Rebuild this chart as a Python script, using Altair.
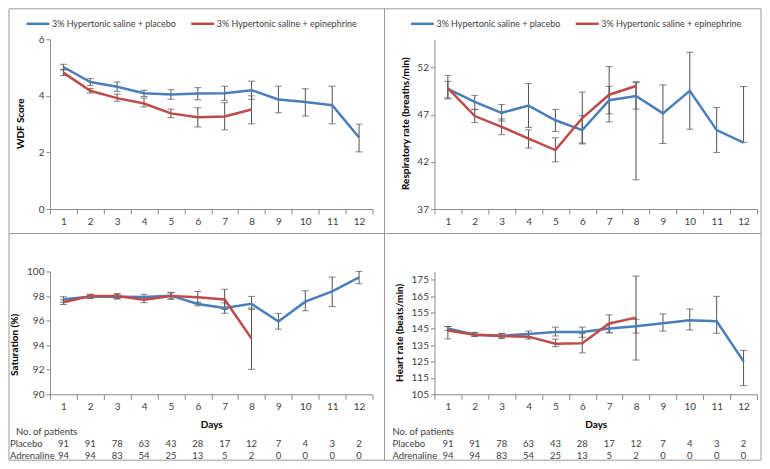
import altair as alt
import pandas as pd

days = list(range(1, 13))
groups = ["3% Hypertonic saline + placebo", "3% Hypertonic saline + epinephrine"]

# WDF score
wdf_plc = [5.02, 4.49, 4.32, 4.09, 4.05, 4.08, 4.09, 4.20, 3.87, 3.78, 3.67, 2.53]
wdf_plc_lo = [4.92, 4.37, 4.15, 3.98, 3.88, 3.86, 3.84, 3.88, 3.40, 3.29, 3.01, 2.02]
wdf_plc_hi = [5.12, 4.61, 4.49, 4.20, 4.22, 4.29, 4.34, 4.52, 4.34, 4.25, 4.34, 3.00]
wdf_epi = [4.82, 4.18, 3.92, 3.73, 3.38, 3.24, 3.27, 3.52]
wdf_epi_lo = [4.72, 4.10, 3.81, 3.61, 3.23, 2.90, 2.80, 3.01]
wdf_epi_hi = [4.92, 4.26, 4.06, 3.92, 3.53, 3.58, 3.76, 4.00]

# Respiratory rate
rr_plc = [49.74, 48.35, 47.20, 47.97, 46.41, 45.37, 48.53, 48.98, 47.14, 49.53, 45.37, 44.05]
rr_plc_lo = [48.67, 47.56, 46.34, 45.65, 45.23, 43.90, 47.10, 47.60, 43.95, 45.47, 43.00, 44.05]
rr_plc_hi = [51.17, 49.05, 48.08, 50.30, 47.55, 46.90, 50.00, 50.40, 50.16, 53.63, 47.76, 49.99]
rr_epi = [49.81, 46.86, 45.72, 44.47, 43.25, 46.65, 49.12, 50.05]
rr_epi_lo = [48.80, 46.17, 44.88, 43.46, 42.00, 44.00, 46.24, 40.10]
rr_epi_hi = [50.54, 47.56, 46.55, 45.40, 44.55, 49.40, 52.10, 50.50]

# Saturation
sat_plc = [97.73, 97.95, 97.95, 97.92, 98.03, 97.35, 97.02, 97.37, 95.92, 97.54, 98.38, 99.51]
sat_plc_lo = [97.50, 97.80, 97.75, 97.72, 97.75, 97.20, 96.60, 96.90, 95.30, 96.81, 97.14, 99.00]
sat_plc_hi = [97.95, 98.10, 98.15, 98.14, 98.30, 97.50, 97.45, 97.97, 96.59, 98.43, 99.54, 100.0]
sat_epi = [97.50, 98.00, 98.00, 97.70, 98.00, 97.89, 97.72, 94.53]
sat_epi_lo = [97.30, 97.85, 97.80, 97.45, 97.75, 97.40, 96.90, 92.03]
sat_epi_hi = [97.70, 98.15, 98.20, 97.95, 98.25, 98.37, 98.55, 97.02]

# Heart rate
hr_plc = [145.2, 141.4, 140.8, 141.8, 143.0, 143.0, 145.2, 146.6, 148.4, 150.2, 149.6, 125.1]
hr_plc_lo = [144.0, 140.4, 139.5, 139.8, 140.6, 139.8, 142.4, 142.4, 143.6, 144.2, 142.3, 110.3]
hr_plc_hi = [146.4, 142.8, 142.2, 143.6, 146.0, 146.0, 148.0, 150.8, 154.1, 157.1, 164.8, 131.8]
hr_epi = [144.0, 141.4, 140.6, 140.2, 135.9, 136.1, 148.2, 151.8]
hr_epi_lo = [138.8, 140.4, 139.0, 138.7, 134.1, 130.3, 142.9, 125.9]
hr_epi_hi = [146.4, 142.6, 142.0, 142.0, 138.7, 142.0, 153.5, 177.2]

# Number of patients
placebo_n = [91, 91, 78, 63, 43, 28, 17, 12, 7, 4, 3, 2]
adren_n = [94, 94, 83, 54, 25, 13, 5, 2, 0, 0, 0, 0]

BLUE = "#4A7EBB"
RED = "#BE4B48"
ERR = "#505050"
AXC = "#8a8a8a"
TXT = "#404040"
FRAME = "#9a9a9a"
FONT = "Lato"
W = 323
TFS = 9.5


def make_df(p, plo, phi, e, elo, ehi):
    rows = []
    for i, d in enumerate(days):
        rows.append({"day": d, "group": groups[0], "v": p[i], "lo": plo[i], "hi": phi[i]})
    for i in range(len(e)):
        rows.append({"day": days[i], "group": groups[1], "v": e[i], "lo": elo[i], "hi": ehi[i]})
    return pd.DataFrame(rows)


one = pd.DataFrame({"k": [0]})
table_df = pd.DataFrame({"day": days, "pl": placebo_n, "ad": adren_n})


def panel(df, ytitle, domain, ticks, height, frame, show_legend, table, ytx, yty, lab_x):
    if table:
        xaxis = alt.Axis(title="Days", labelAngle=0, tickBand="extent", tickSize=5,
                         labelFontSize=10, titleFontSize=10, titleFontWeight="bold",
                         titleX=W / 2, titleY=30, titleBaseline="middle")
    else:
        xaxis = alt.Axis(title=None, labelAngle=0, tickBand="extent", tickSize=5,
                         labelFontSize=10)
    xenc = alt.X("day:O", scale=alt.Scale(type="band", domain=days, paddingInner=0, paddingOuter=0),
                 axis=xaxis, bandPosition=0.5)
    ysc = alt.Scale(domain=domain, nice=False, zero=False)
    yaxis = alt.Axis(title=ytitle, values=ticks, tickSize=4, labelFontSize=10,
                     titleFontSize=10, titleFontWeight="bold", titleX=ytx, titleY=yty,
                     titleBaseline="middle")
    if show_legend:
        leg = alt.Legend(orient="none", legendX=-25, legendY=-28.5, direction="horizontal",
                         title=None, symbolType="stroke", symbolSize=529, symbolStrokeWidth=2.5,
                         labelFontSize=9, labelFont=FONT, labelColor=TXT, columnPadding=9,
                         labelOffset=1, padding=0, rowPadding=0, labelLimit=400)
    else:
        leg = None
    color = alt.Color("group:N", scale=alt.Scale(domain=groups, range=[BLUE, RED]), legend=leg)

    base = alt.Chart(df)
    err = base.mark_rule(color=ERR, strokeWidth=1).encode(
        x=xenc, y=alt.Y("lo:Q", scale=ysc, axis=yaxis), y2="hi:Q")
    cap_lo = base.mark_tick(color=ERR, size=7, thickness=1, orient="horizontal").encode(
        x=xenc, y=alt.Y("lo:Q", scale=ysc, axis=yaxis))
    cap_hi = base.mark_tick(color=ERR, size=7, thickness=1, orient="horizontal").encode(
        x=xenc, y=alt.Y("hi:Q", scale=ysc, axis=yaxis))
    line = base.mark_line(strokeWidth=2.5).encode(
        x=xenc, y=alt.Y("v:Q", scale=ysc, axis=yaxis), color=color,
        order=alt.Order("day:Q"))
    fx1, fx2, fy1, fy2 = frame
    fr = alt.Chart(one).mark_rect(fillOpacity=0, stroke=FRAME, strokeWidth=1).encode(
        x=alt.value(fx1), x2=alt.value(fx2), y=alt.value(fy1), y2=alt.value(fy2))
    layers = [fr, err, cap_lo, cap_hi, line]
    if table:
        tb = alt.Chart(table_df)
        layers.append(tb.mark_text(font=FONT, fontSize=TFS, color=TXT).encode(
            x=xenc, y=alt.value(173), text="pl:Q"))
        layers.append(tb.mark_text(font=FONT, fontSize=TFS, color=TXT).encode(
            x=xenc, y=alt.value(184.5), text="ad:Q"))
        oc = alt.Chart(one)
        layers.append(oc.mark_text(font=FONT, fontSize=TFS, color=TXT, align="left").encode(
            x=alt.value(lab_x[0]), y=alt.value(161), text=alt.value("No. of patients")))
        layers.append(oc.mark_text(font=FONT, fontSize=TFS, color=TXT, align="left").encode(
            x=alt.value(lab_x[1]), y=alt.value(173), text=alt.value("Placebo")))
        layers.append(oc.mark_text(font=FONT, fontSize=TFS, color=TXT, align="left").encode(
            x=alt.value(lab_x[1]), y=alt.value(184.5), text=alt.value("Adrenaline")))
    return alt.layer(*layers).properties(width=W, height=height)


tl = panel(make_df(wdf_plc, wdf_plc_lo, wdf_plc_hi, wdf_epi, wdf_epi_lo, wdf_epi_hi),
           "WDF Score", [0, 6], [0, 2, 4, 6], 170, (-41, 335, -30.5, 194.5), True, False,
           -29, 84, None)
tr = panel(make_df(rr_plc, rr_plc_lo, rr_plc_hi, rr_epi, rr_epi_lo, rr_epi_hi),
           "Respiratory rate (breaths/min)", [37, 55], [37, 42, 47, 52], 170,
           (-50, 327, -30.5, 194.5), True, False, -29, 84, None)
bl = panel(make_df(sat_plc, sat_plc_lo, sat_plc_hi, sat_epi, sat_epi_lo, sat_epi_hi),
           "Saturation (%)", [90, 100], [90, 92, 94, 96, 98, 100], 123,
           (-41, 335, -38, 189), False, True, -35, 73, (-34, -40))
br = panel(make_df(hr_plc, hr_plc_lo, hr_plc_hi, hr_epi, hr_epi_lo, hr_epi_hi),
           "Heart rate (beats/min)", [105, 180], [105, 115, 125, 135, 145, 155, 165, 175], 123,
           (-50, 327, -38, 189), False, True, -35, 61, (-42, -42))

chart = alt.concat(tl, tr, bl, br, columns=2, spacing={"row": 62.5, "column": 62},
                   bounds="flush").resolve_scale(color="independent").properties(
    padding=0, background="white"
).configure_view(stroke=None).configure_axis(
    grid=False, labelFont=FONT, titleFont=FONT, domainColor=AXC, tickColor=AXC,
    labelColor=TXT, titleColor="#000000"
)

chart.save("out.html", embed_options={"renderer": "svg", "actions": False})
